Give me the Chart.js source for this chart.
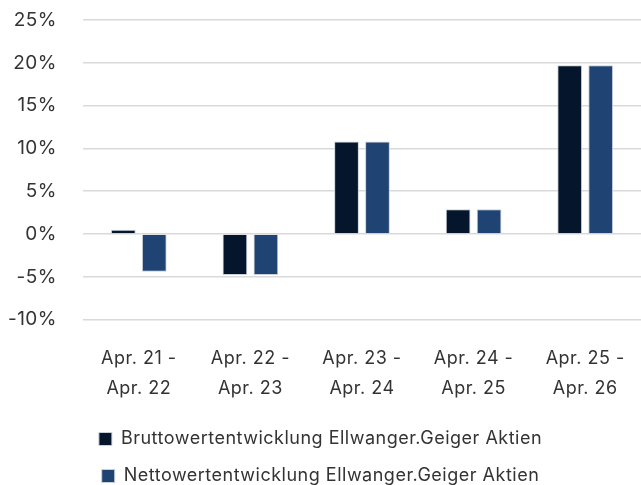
<!DOCTYPE html>
<html>
<head>
<meta charset="utf-8">
<script src="https://cdn.jsdelivr.net/npm/chart.js@4.4.1/dist/chart.umd.min.js"></script>
<style>
  html, body { margin: 0; padding: 0; background: #fff; }
  #wrap { width: 641px; height: 485px; position: relative; }
</style>
</head>
<body>
<div id="wrap"><canvas id="chart"></canvas></div>
<script>
// categories (two-line labels) and series values in percent
const categories = [
    ['Apr. 21 -', 'Apr. 22'],
    ['Apr. 22 -', 'Apr. 23'],
    ['Apr. 23 -', 'Apr. 24'],
    ['Apr. 24 -', 'Apr. 25'],
    ['Apr. 25 -', 'Apr. 26']
];
const bruttoValues = [0.5, -4.8, 10.8, 2.9, 19.7];
const nettoValues = [-4.4, -4.8, 10.8, 2.9, 19.7];
const seriesNames = [
    'Bruttowertentwicklung Ellwanger.Geiger Aktien',
    'Nettowertentwicklung Ellwanger.Geiger Aktien'
];

const textColor = '#333333';
const fontFamily = "Inter, 'DejaVu Sans', sans-serif";

// the original font is a bit more spaced out
const spacingPlugin = {
    id: 'spacing',
    beforeLayout: chart => { chart.ctx.letterSpacing = '0.5px'; },
    beforeDraw: chart => { chart.ctx.letterSpacing = '0.5px'; }
};

const ctx = document.getElementById('chart').getContext('2d');

new Chart(ctx, {
    type: 'bar',
    plugins: [spacingPlugin],
    data: {
        labels: categories,
        datasets: [{
            label: seriesNames[0],
            data: bruttoValues,
            backgroundColor: '#05152c',
            borderColor: '#c9d0da',
            borderWidth: 1,
            categoryPercentage: 0.555,
            barPercentage: 0.8
        }, {
            label: seriesNames[1],
            data: nettoValues,
            backgroundColor: '#1f4373',
            borderColor: '#c9d0da',
            borderWidth: 1,
            categoryPercentage: 0.555,
            barPercentage: 0.8
        }]
    },
    options: {
        responsive: true,
        maintainAspectRatio: false,
        animation: false,
        layout: { padding: { top: 20, left: 0, right: 0, bottom: -10 } },
        plugins: {
            legend: {
                position: 'bottom',
                align: 'center',
                labels: {
                    color: textColor,
                    font: { family: fontFamily, size: 18 },
                    boxWidth: 13,
                    boxHeight: 13,
                    padding: 19
                }
            },
            tooltip: { enabled: false }
        },
        scales: {
            x: {
                grid: { display: false },
                border: { display: false },
                afterFit: scale => { scale.height -= 8; },
                ticks: {
                    color: textColor,
                    font: { family: fontFamily, size: 18, lineHeight: 1.65 },
                    maxRotation: 0,
                    padding: 16
                }
            },
            y: {
                min: -10,
                max: 25,
                grid: { color: '#d9d9d9', lineWidth: 1.5, drawTicks: false },
                border: { display: false },
                afterFit: scale => {
                    scale.width = 83;
                    scale.paddingTop = 0;
                },
                ticks: {
                    stepSize: 5,
                    color: textColor,
                    font: { family: fontFamily, size: 19 },
                    padding: 26,
                    callback: v => v + '%'
                }
            }
        }
    }
});
</script>
</body>
</html>
